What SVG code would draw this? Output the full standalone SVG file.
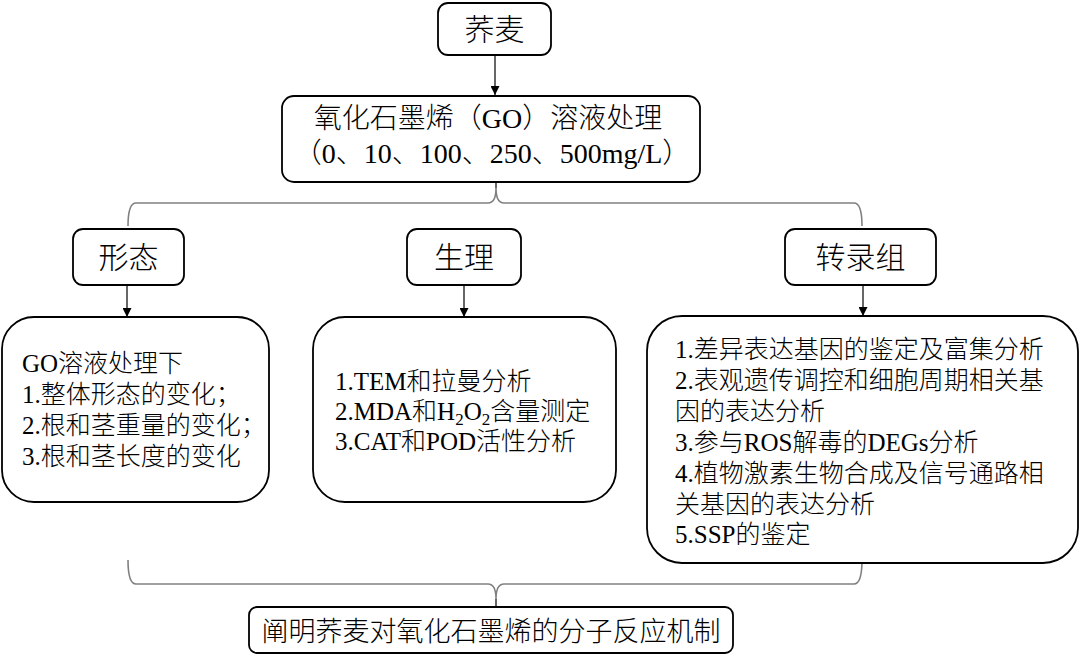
<svg xmlns="http://www.w3.org/2000/svg" width="1080" height="664" viewBox="0 0 1080 664">
<defs>
<style>
.box{fill:#fff;stroke:#000;stroke-width:1.8}
.t{font-family:"Liberation Serif","Noto Sans CJK SC",serif;fill:#000;font-weight:300}
.title{font-size:30px;text-anchor:middle}
.mid{font-size:28px;text-anchor:middle}
.body{font-size:25px}
.ln{fill:none;stroke:#000;stroke-width:1.2}
.brace{fill:none;stroke:#808080;stroke-width:1.6}
</style>
<marker id="ah" viewBox="0 0 10 10" refX="10" refY="5" markerWidth="9" markerHeight="9" markerUnits="userSpaceOnUse" orient="auto">
<path d="M0,0 L10,5 L0,10 Z" fill="#000"/>
</marker>
</defs>
<rect width="1080" height="664" fill="#fff"/>

<g id="connectors">
<line class="ln" x1="495" y1="55" x2="495" y2="95" marker-end="url(#ah)"/>
<line class="ln" x1="496" y1="182" x2="496" y2="188"/>
<path class="brace" d="M128,226 Q128,203 136,203 H488 Q496,203 496,188 Q496,203 504,203 H854 Q862,203 862,226"/>
<line class="ln" x1="127" y1="285" x2="127" y2="317" marker-end="url(#ah)"/>
<line class="ln" x1="464" y1="285" x2="464" y2="317" marker-end="url(#ah)"/>
<line class="ln" x1="863" y1="285" x2="863" y2="316" marker-end="url(#ah)"/>
<path class="brace" d="M128,560 Q128,584 136,584 H488 Q496,584 496,599 Q496,584 504,584 H854 Q862,584 862,560"/>
<line class="ln" x1="496" y1="599" x2="496" y2="607"/>
</g>

<g id="node-qiaomai">
<rect class="box" x="438" y="3" width="113" height="52" rx="10"/>
<text class="t title" x="494.5" y="40">荞麦</text>
</g>

<g id="node-go">
<rect class="box" x="282" y="96" width="418" height="86" rx="12"/>
<text class="t mid" x="488" y="128">氧化石墨烯（GO）溶液处理</text>
<text class="t mid" x="492" y="163">（0、10、100、250、500mg/L）</text>
</g>

<g id="node-xingtai">
<rect class="box" x="73" y="229" width="111" height="56" rx="10"/>
<text class="t title" x="128.5" y="268">形态</text>
</g>

<g id="node-shengli">
<rect class="box" x="407" y="229" width="114" height="56" rx="10"/>
<text class="t title" x="464" y="268">生理</text>
</g>

<g id="node-zhuanluzu">
<rect class="box" x="785" y="229" width="151" height="56" rx="10"/>
<text class="t title" x="860.5" y="268">转录组</text>
</g>

<g id="node-xingtai-detail">
<rect class="box" x="2" y="317" width="267" height="185" rx="32"/>
<text class="t body" x="22" y="372">GO溶液处理下</text>
<text class="t body" x="22" y="403">1.整体形态的变化；</text>
<text class="t body" x="22" y="434">2.根和茎重量的变化；</text>
<text class="t body" x="22" y="465">3.根和茎长度的变化</text>
</g>

<g id="node-shengli-detail">
<rect class="box" x="313" y="317" width="303" height="185" rx="32"/>
<text class="t body" x="335" y="390">1.TEM和拉曼分析</text>
<text class="t body" x="335" y="420">2.MDA和H<tspan font-size="17" dy="5">2</tspan><tspan dy="-5">O</tspan><tspan font-size="17" dy="5">2</tspan><tspan dy="-5">含量测定</tspan></text>
<text class="t body" x="335" y="450">3.CAT和POD活性分析</text>
</g>

<g id="node-zhuanluzu-detail">
<rect class="box" x="647" y="316" width="431" height="247" rx="35"/>
<text class="t body" x="675" y="358">1.差异表达基因的鉴定及富集分析</text>
<text class="t body" x="675" y="389">2.表观遗传调控和细胞周期相关基</text>
<text class="t body" x="675" y="420">因的表达分析</text>
<text class="t body" x="675" y="451">3.参与ROS解毒的DEGs分析</text>
<text class="t body" x="675" y="482">4.植物激素生物合成及信号通路相</text>
<text class="t body" x="675" y="513">关基因的表达分析</text>
<text class="t body" x="675" y="543">5.SSP的鉴定</text>
</g>

<g id="node-conclusion">
<rect class="box" x="249" y="607" width="484" height="46" rx="8"/>
<text class="t" x="491" y="641" font-size="27" text-anchor="middle">阐明荞麦对氧化石墨烯的分子反应机制</text>
</g>
</svg>
